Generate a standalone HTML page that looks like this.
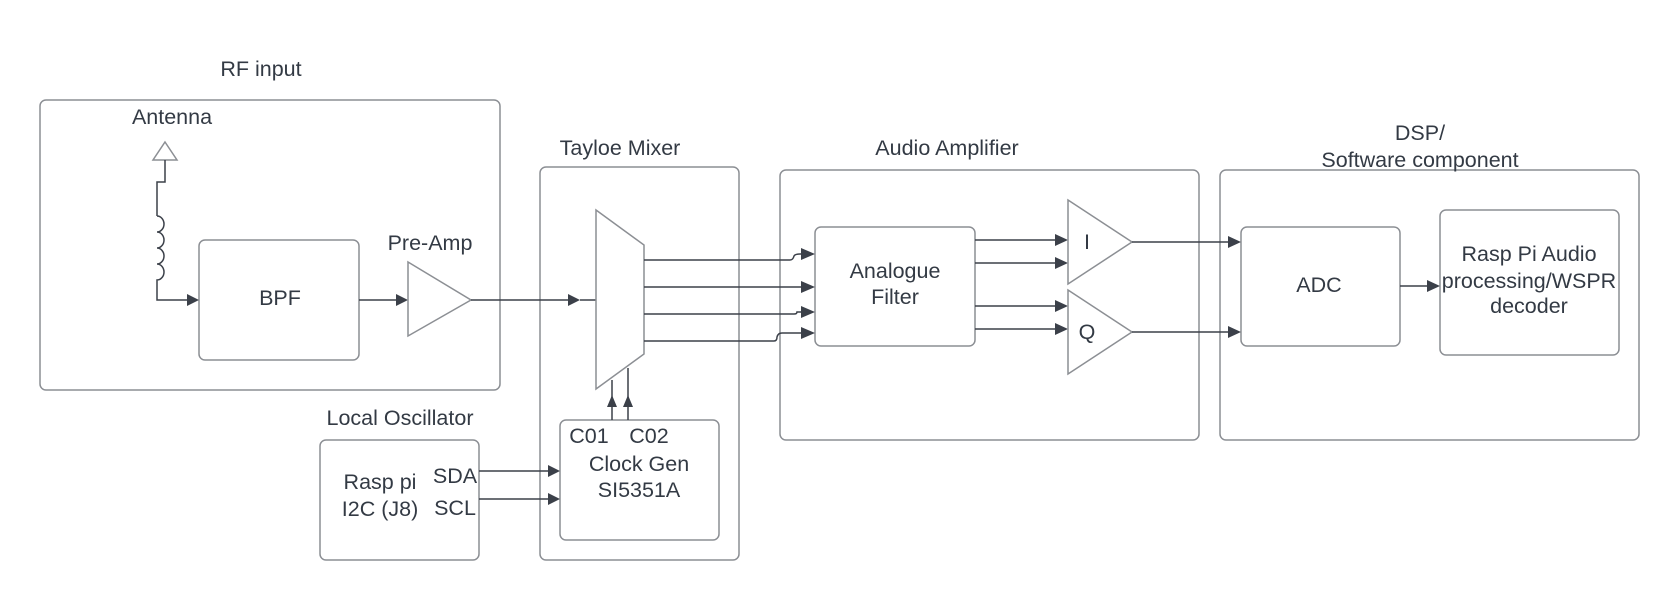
<!DOCTYPE html>
<html><head><meta charset="utf-8"><style>
html,body{margin:0;padding:0;background:#fff;}
svg{display:block;}
text{font-family:"Liberation Sans",sans-serif;font-size:21.5px;fill:#333a44;text-anchor:middle;}
.b{fill:none;stroke:#8c8f94;stroke-width:1.5;}
.l{fill:none;stroke:#3b4049;stroke-width:1.5;}
.h{fill:#3b4049;}
</style></head><body>
<svg width="1680" height="600" viewBox="0 0 1680 600" xmlns="http://www.w3.org/2000/svg">
<rect class="b" x="40" y="100" width="460" height="290" rx="6"/>
<rect class="b" x="540" y="167" width="199" height="393" rx="6"/>
<rect class="b" x="780" y="170" width="419" height="270" rx="6"/>
<rect class="b" x="1220" y="170" width="419" height="270" rx="6"/>
<rect class="b" x="320" y="440" width="159" height="120" rx="6"/>
<rect class="b" x="199" y="240" width="160" height="120" rx="6"/>
<rect class="b" x="560" y="420" width="159" height="120" rx="6"/>
<rect class="b" x="815" y="227" width="160" height="119" rx="6"/>
<rect class="b" x="1241" y="227" width="159" height="119" rx="6"/>
<rect class="b" x="1440" y="210" width="179" height="145" rx="6"/>
<text x="261" y="76">RF input</text>
<text x="172" y="124">Antenna</text>
<text x="280" y="305">BPF</text>
<text x="430" y="250">Pre-Amp</text>
<text x="620" y="155">Tayloe Mixer</text>
<text x="947" y="155">Audio Amplifier</text>
<text x="1420" y="140">DSP/</text>
<text x="1420" y="167">Software component</text>
<text x="400" y="425">Local Oscillator</text>
<text x="380" y="489">Rasp pi</text>
<text x="380" y="516">I2C (J8)</text>
<text x="455" y="483">SDA</text>
<text x="455" y="515">SCL</text>
<text x="589" y="443">C01</text>
<text x="649" y="443">C02</text>
<text x="639" y="471">Clock Gen</text>
<text x="639" y="497">SI5351A</text>
<text x="895" y="278">Analogue</text>
<text x="895" y="304">Filter</text>
<text x="1087" y="249">I</text>
<text x="1087" y="339">Q</text>
<text x="1319" y="292">ADC</text>
<text x="1529" y="261">Rasp Pi Audio</text>
<text x="1529" y="288">processing/WSPR</text>
<text x="1529" y="313">decoder</text>
<path class="b" d="M165,142 L177,160 L153,160 Z" stroke="#3b4049"/>
<path class="l" d="M165,160 V182 H157 V216 M157,216 a7,8 0 0 1 0,16 a7,8 0 0 1 0,16 a7,8 0 0 1 0,16 a7,8 0 0 1 0,16 V300 H190"/>
<path class="h" d="M199,300 l-12,-6 v12 z"/>
<path class="l" d="M359,300 H398"/><path class="h" d="M408,300 l-12,-6 v12 z"/>
<path class="b" d="M408,262 L471,300 L408,336 Z"/>
<path class="l" d="M471,300 H570"/><path class="h" d="M580,300 l-12,-6 v12 z"/>
<path class="l" d="M580,300 H596"/>
<path class="b" d="M596,210 L644,245 L644,354 L596,389 Z"/>
<path class="l" d="M644,260 H790 Q793,260 794,256 Q795,254 800,254 H805"/><path class="h" d="M815,254 l-14,-6 v12 z"/>
<path class="l" d="M644,287 H805"/><path class="h" d="M815,287 l-14,-6 v12 z"/>
<path class="l" d="M644,314 H794 Q797,314 797,312 H805"/><path class="h" d="M815,312 l-14,-6 v12 z"/>
<path class="l" d="M644,341 H774 Q777,341 777,337 Q778,333 782,333 H805"/><path class="h" d="M815,333 l-14,-6 v12 z"/>
<path class="l" d="M612,420 V380 M628,420 V368"/>
<path class="h" d="M612,395 l-5,12 h10 z M628,395 l-5,12 h10 z"/>
<path class="l" d="M479,471 H548 M479,499 H548"/>
<path class="h" d="M560,471 l-12,-6 v12 z M560,499 l-12,-6 v12 z"/>
<path class="l" d="M975,240 H1058 M975,263 H1058 M975,306 H1058 M975,329 H1058"/>
<path class="h" d="M1068,240 l-13,-6 v12 z M1068,263 l-13,-6 v12 z M1068,306 l-13,-6 v12 z M1068,329 l-13,-6 v12 z"/>
<path class="b" d="M1068,200 L1132,242 L1068,284 Z"/>
<path class="b" d="M1068,290 L1132,332 L1068,374 Z"/>
<path class="l" d="M1132,242 H1229 M1132,332 H1229"/>
<path class="h" d="M1241,242 l-13,-6 v12 z M1241,332 l-13,-6 v12 z"/>
<path class="l" d="M1400,286 H1429"/><path class="h" d="M1440,286 l-13,-6 v12 z"/>
</svg>
</body></html>
